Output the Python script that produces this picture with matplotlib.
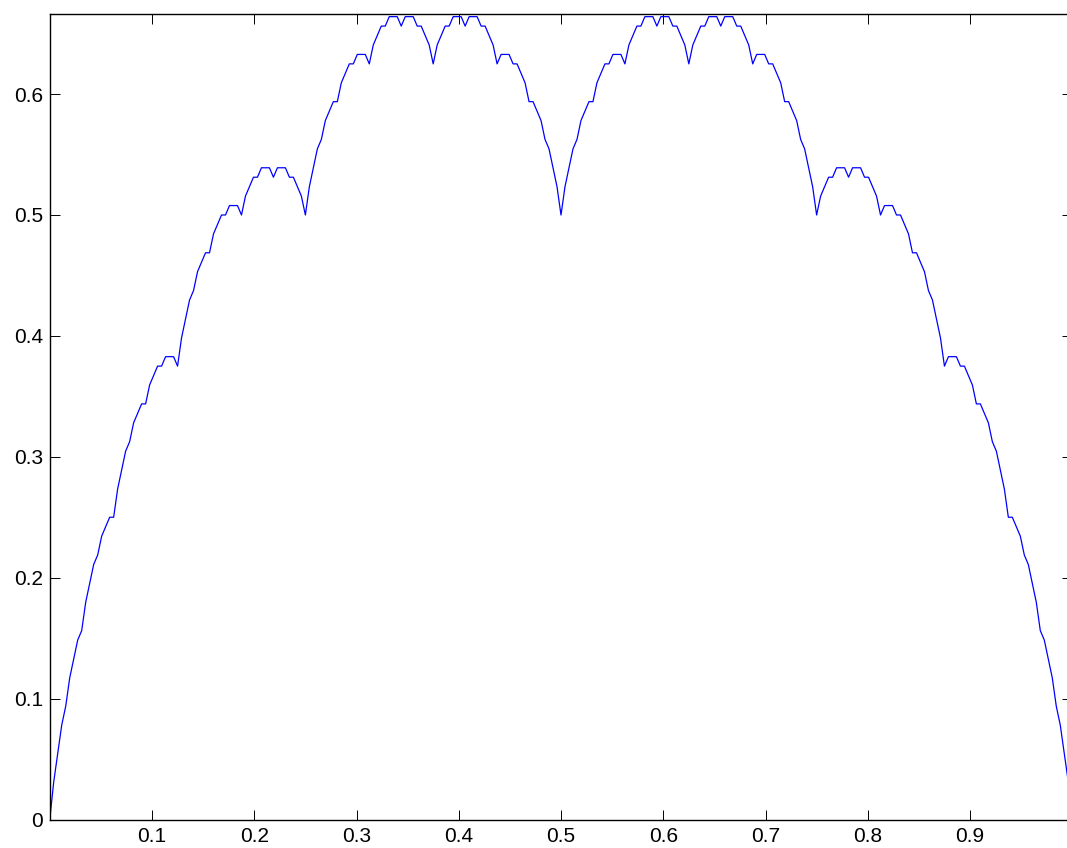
import numpy as np
import matplotlib
matplotlib.use("Agg")
import matplotlib.pyplot as plt

yLeft = [0, 8, 14, 20, 24, 30, 34, 38, 40, 46, 50, 54, 56, 60, 62, 64,
         64, 70, 74, 78, 80, 84, 86, 88, 88, 92, 94, 96, 96, 98, 98, 98,
         96, 102, 106, 110, 112, 116, 118, 120, 120, 124, 126, 128, 128, 130, 130, 130,
         128, 132, 134, 136, 136, 138, 138, 138, 136, 138, 138, 138, 136, 136, 134, 132,
         128, 134, 138, 142, 144, 148, 150, 152, 152, 156, 158, 160, 160, 162, 162, 162,
         160, 164, 166, 168, 168, 170, 170, 170, 168, 170, 170, 170, 168, 168, 166, 164,
         160, 164, 166, 168, 168, 170, 170, 170, 168, 170, 170, 170, 168, 168, 166, 164,
         160, 162, 162, 162, 160, 160, 158, 156, 152, 152, 150, 148, 144, 142, 138, 134,
         128]
yRight = [134, 138, 142, 144, 148, 150, 152, 152, 156, 158, 160, 160, 162, 162, 162, 160,
          164, 166, 168, 168, 170, 170, 170, 168, 170, 170, 170, 168, 168, 166, 164, 160,
          164, 166, 168, 168, 170, 170, 170, 168, 170, 170, 170, 168, 168, 166, 164, 160,
          162, 162, 162, 160, 160, 158, 156, 152, 152, 150, 148, 144, 142, 138, 134, 128,
          132, 134, 136, 136, 138, 138, 138, 136, 138, 138, 138, 136, 136, 134, 132, 128,
          130, 130, 130, 128, 128, 126, 124, 120, 120, 118, 116, 112, 110, 106, 102, 96,
          98, 98, 98, 96, 96, 94, 92, 88, 88, 86, 84, 80, 78, 74, 70, 64,
          64, 62, 60, 56, 54, 50, 46, 40, 38, 34, 30, 24, 20, 14, 8, 0]
yUnit = 256.0

xTicks = [0.1, 0.2, 0.3, 0.4, 0.5, 0.6, 0.7, 0.8, 0.9]
yTicks = [0, 0.1, 0.2, 0.3, 0.4, 0.5, 0.6]
yTickLabels = ["0", "0.1", "0.2", "0.3", "0.4", "0.5", "0.6"]

y = np.array(yLeft + yRight) / yUnit
x = np.arange(len(y)) / (len(y) - 1.0)

plt.rcParams['font.family'] = ['Liberation Sans', 'DejaVu Sans']

fig = plt.figure(figsize=[10.67, 8.48], dpi=100)
# the original picture is cropped on the right, so the axes run past the edge
ax = fig.add_axes([49.75 / 1067, 28.5 / 848, 1022.5 / 1067, 806 / 848])
ax.plot(x, y, color=(0, 0, 1), linewidth=0.9)

ax.set_xlim(0, 1)
ax.set_ylim(0, 2.0 / 3.0)
ax.set_xticks(xTicks)
ax.set_xticklabels(["%.1f" % t for t in xTicks])
ax.set_yticks(yTicks)
ax.set_yticklabels(yTickLabels)
ax.tick_params(direction='in', top=True, right=True, length=7.2, width=0.7,
               labelsize=15, colors='black')
ax.tick_params(axis='x', pad=5.5)
ax.tick_params(axis='y', pad=5)
for s in ax.spines.values():
    s.set_linewidth(1.0)

fig.savefig("out.png", dpi=100)
